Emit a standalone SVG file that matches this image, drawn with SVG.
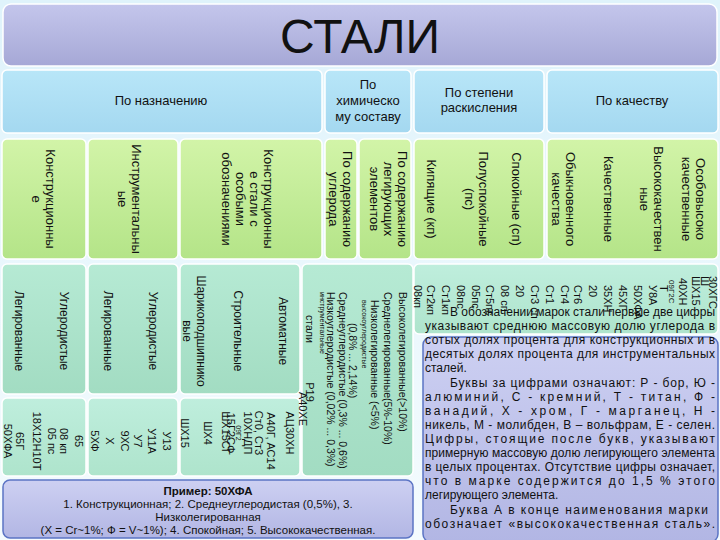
<svg xmlns="http://www.w3.org/2000/svg" width="720" height="540" viewBox="0 0 720 540">
<defs>
<linearGradient id="bg" x1="0" y1="0" x2="0" y2="1"><stop offset="0" stop-color="#dff3fb"/><stop offset="1" stop-color="#f4fbfe"/></linearGradient>
<linearGradient id="gt" x1="0" y1="0" x2="0" y2="1"><stop offset="0" stop-color="#c4c6ec"/><stop offset="1" stop-color="#a6a8d6"/></linearGradient>
<linearGradient id="gc" x1="0" y1="0" x2="0" y2="1"><stop offset="0" stop-color="#b8e6f8"/><stop offset="1" stop-color="#a4d8f0"/></linearGradient>
<linearGradient id="gg" x1="0" y1="0" x2="0" y2="1"><stop offset="0" stop-color="#d2f4a8"/><stop offset="1" stop-color="#b4e488"/></linearGradient>
<linearGradient id="gq" x1="0" y1="0" x2="0" y2="1"><stop offset="0" stop-color="#b6ead4"/><stop offset="1" stop-color="#a2dcc2"/></linearGradient>
<linearGradient id="gk" x1="0" y1="0" x2="0" y2="1"><stop offset="0" stop-color="#bfeedd"/><stop offset="1" stop-color="#aee4cc"/></linearGradient>
<linearGradient id="gb" x1="0" y1="0" x2="0" y2="1"><stop offset="0" stop-color="#cdd0f2"/><stop offset="1" stop-color="#b2b6e4"/></linearGradient>
</defs>
<style>
text{font-family:"Liberation Sans",Arial,sans-serif;fill:#111}
.c{font-size:13px;text-anchor:middle}
.g{font-size:13px;text-anchor:middle}
.q{font-size:12px;text-anchor:middle}
.s{font-size:10.5px}
.k{font-size:11px}
.km{font-size:11px;text-anchor:middle}
.p{font-size:12px}
.e{font-size:11.5px;text-anchor:middle}
.box{stroke:#ffffff;stroke-width:1.5}
</style>
<rect width="720" height="540" fill="url(#bg)"/>
<g id="title"><rect class="box" x="3" y="4" width="714" height="62" rx="8" fill="url(#gt)"/><text x="360" y="53" style="font-size:48px;text-anchor:middle">СТАЛИ</text></g>
<g id="categories">
<rect class="box" x="2" y="70" width="320" height="63" rx="5" fill="url(#gc)"/><text class="c" x="161" y="105">По назначению</text>
<rect class="box" x="325" y="70" width="86" height="63" rx="5" fill="url(#gc)"/><text class="c" x="368" y="89">По</text><text class="c" x="368" y="105">химическо</text><text class="c" x="368" y="121">му составу</text>
<rect class="box" x="414" y="70" width="130" height="63" rx="5" fill="url(#gc)"/><text class="c" x="479" y="97">По степени</text><text class="c" x="479" y="112">раскисления</text>
<rect class="box" x="547" y="70" width="171" height="63" rx="5" fill="url(#gc)"/><text class="c" x="632" y="105">По качеству</text>
</g>
<g id="types">
<rect class="box" x="2" y="139" width="84" height="120" rx="5" fill="url(#gg)"/>
<rect class="box" x="88" y="139" width="90" height="120" rx="5" fill="url(#gg)"/>
<rect class="box" x="180" y="139" width="142" height="120" rx="5" fill="url(#gg)"/>
<rect class="box" x="325" y="139" width="32" height="120" rx="5" fill="url(#gg)"/>
<rect class="box" x="359" y="139" width="52" height="120" rx="5" fill="url(#gg)"/>
<rect class="box" x="414" y="139" width="130" height="120" rx="5" fill="url(#gg)"/>
<rect class="box" x="547" y="139" width="171" height="120" rx="5" fill="url(#gg)"/>
<text class="g" transform="translate(46,199) rotate(90)">Конструкционны<tspan x="0" dy="14">е</tspan></text>
<text class="g" transform="translate(132,199) rotate(90)">Инструментальны<tspan x="0" dy="14">ые</tspan></text>
<text class="g" transform="translate(264,199) rotate(90)">Конструкционны<tspan x="0" dy="14">е стали с</tspan><tspan x="0" dy="14">особыми</tspan><tspan x="0" dy="14">обозначениями</tspan></text>
<text class="g" transform="translate(343,199) rotate(90)">По содержанию<tspan x="0" dy="14">углерода</tspan></text>
<text class="g" transform="translate(398,199) rotate(90)">По содержанию<tspan x="0" dy="14">легирующих</tspan><tspan x="0" dy="14">элементов</tspan></text>
<text class="g" transform="translate(427,199) rotate(90)">Кипящие (кп)</text>
<text class="g" transform="translate(479,199) rotate(90)">Полуспокойные<tspan x="0" dy="14">(пс)</tspan></text>
<text class="g" transform="translate(512,199) rotate(90)">Спокойные (сп)</text>
<text class="g" transform="translate(566,199) rotate(90)">Обыкновенного<tspan x="0" dy="14">качества</tspan></text>
<text class="g" transform="translate(604,199) rotate(90)">Качественные</text>
<text class="g" transform="translate(654,199) rotate(90)">Высококачествен<tspan x="0" dy="14">ные</tspan></text>
<text class="g" transform="translate(696,199) rotate(90)">Особовысоко<tspan x="0" dy="14">качественные</tspan></text>
</g>
<g id="subtypes">
<rect class="box" x="2" y="264" width="84" height="130" rx="5" fill="url(#gq)"/>
<rect class="box" x="88" y="264" width="90" height="130" rx="5" fill="url(#gq)"/>
<rect class="box" x="180" y="264" width="120" height="130" rx="5" fill="url(#gq)"/>
<rect class="box" x="302" y="264" width="111" height="212" rx="5" fill="url(#gq)"/>
<rect class="box" x="414" y="264" width="304" height="70" rx="5" fill="url(#gk)"/>
<text class="q" transform="translate(15,331) rotate(90)">Легированные</text>
<text class="q" transform="translate(60,331) rotate(90)">Углеродистые</text>
<text class="q" transform="translate(104,331) rotate(90)">Легированные</text>
<text class="q" transform="translate(149,331) rotate(90)">Углеродистые</text>
<text class="q" transform="translate(197,331) rotate(90)">Шарикоподшипнико<tspan x="0" dy="14">вые</tspan></text>
<text class="q" transform="translate(234,331) rotate(90)">Строительные</text>
<text class="q" transform="translate(279,331) rotate(90)">Автоматные</text>
<text class="s" transform="translate(399,292) rotate(90)">Высоколегированные(&gt;10%)</text>
<text class="s" transform="translate(384,292) rotate(90)">Среднелегированные(5%-10%)</text>
<text class="s" transform="translate(371,300) rotate(90)">Низколегированные (&lt;5%)</text>
<text transform="translate(362,300) rotate(90)" style="font-size:7px">высокоуглеродистые</text>
<text class="s" transform="translate(349,323) rotate(90)">(0,8% ... 2,14%)</text>
<text class="s" transform="translate(339,292) rotate(90)">Среднеуглеродистые (0,3% ... 0,6%)</text>
<text class="s" transform="translate(327,292) rotate(90)">Низкоуглеродистые (0,02% ... 0,3%)</text>
<text transform="translate(320,292) rotate(90)" style="font-size:7px">инструментальные</text>
<text class="s" transform="translate(306,315) rotate(90)">стали</text>
</g>
<g id="codes">
<rect class="box" x="2" y="398" width="84" height="78" rx="5" fill="url(#gk)"/>
<rect class="box" x="88" y="398" width="90" height="78" rx="5" fill="url(#gk)"/>
<rect class="box" x="180" y="398" width="120" height="78" rx="5" fill="url(#gk)"/>
<text class="km" transform="translate(4,441) rotate(90)">50ХФА</text>
<text class="km" transform="translate(16,441) rotate(90)">65Г</text>
<text class="km" transform="translate(33,441) rotate(90)">18Х12Н10Т</text>
<text class="km" transform="translate(48,441) rotate(90)">05 пс</text>
<text class="km" transform="translate(60,441) rotate(90)">08 кп</text>
<text class="km" transform="translate(75,441) rotate(90)">65</text>
<text class="km" transform="translate(91,441) rotate(90)">5ХФ</text>
<text class="km" transform="translate(106,441) rotate(90)">Х</text>
<text class="km" transform="translate(121,441) rotate(90)">9ХС</text>
<text class="km" transform="translate(134,441) rotate(90)">У7</text>
<text class="km" transform="translate(148,441) rotate(90)">У11А</text>
<text class="km" transform="translate(163,441) rotate(90)">У13</text>
<text class="km" transform="translate(181,433) rotate(90)">ШХ15</text>
<text class="km" transform="translate(204,433) rotate(90)">ШХ4</text>
<text class="km" transform="translate(222,433) rotate(90)">ШХ15СГ</text>
<text class="km" transform="translate(227,433) rotate(90)">15Г2СФ</text>
<text transform="translate(236,433) rotate(90)" style="font-size:7px;text-anchor:middle">09Г2</text>
<text class="km" transform="translate(244,433) rotate(90)">10ХНДП</text>
<text class="km" transform="translate(255,433) rotate(90)">Ст0, Ст3</text>
<text class="km" transform="translate(267,441) rotate(90)">А40Г, АС14</text>
<text class="km" transform="translate(286,433) rotate(90)">АЦ30ХН</text>
<text class="km" transform="translate(299,409) rotate(90)">А40ХЕ</text>
<text class="km" transform="translate(306,392) rotate(90)">Р19</text>
<text class="k" transform="translate(414,285) rotate(90)">08кп</text>
<text class="k" transform="translate(427,285) rotate(90)">Ст2кп</text>
<text class="k" transform="translate(442,285) rotate(90)">Ст1кп</text>
<text class="k" transform="translate(457,285) rotate(90)">08пс</text>
<text class="k" transform="translate(472,285) rotate(90)">05пс</text>
<text class="k" transform="translate(486,285) rotate(90)">Ст5пс</text>
<text class="k" transform="translate(501,285) rotate(90)">08 сп</text>
<text class="k" transform="translate(516,285) rotate(90)">20</text>
<text class="k" transform="translate(531,285) rotate(90)">Ст3 сп</text>
<text class="k" transform="translate(546,285) rotate(90)">Ст1</text>
<text class="k" transform="translate(561,285) rotate(90)">Ст4</text>
<text class="k" transform="translate(574,285) rotate(90)">Ст6</text>
<text class="k" transform="translate(589,285) rotate(90)">20</text>
<text class="k" transform="translate(604,285) rotate(90)">35ХН</text>
<text class="k" transform="translate(619,285) rotate(90)">45ХГ</text>
<text class="k" transform="translate(634,285) rotate(90)">50ХФА</text>
<text class="k" transform="translate(649,285) rotate(90)">У8А</text>
<text class="k" transform="translate(660,285) rotate(90)">Т</text>
<text transform="translate(669,280) rotate(90)" style="font-size:8px">09Г2С</text>
<text class="k" transform="translate(679,278) rotate(90)">40ХН</text>
<text class="k" transform="translate(692,276) rotate(90)">ШХ15</text>
<text class="k" transform="translate(701,276) rotate(90)">Ш</text>
<text class="k" transform="translate(709,276) rotate(90)">30ХГС</text>
</g>
<g id="note">
<rect x="423" y="337" width="295" height="205" rx="8" fill="url(#gb)" stroke="#5b74c4" stroke-width="1.5"/>
<text class="p" x="450" y="316" textLength="265" lengthAdjust="spacing">В обозначении марок стали первые две цифры</text>
<text class="p" x="425" y="330" textLength="290" lengthAdjust="spacing">указывают среднюю массовую долю углерода в</text>
<text class="p" x="425" y="344" textLength="290" lengthAdjust="spacing">сотых долях процента для конструкционных и в</text>
<text class="p" x="425" y="358" textLength="290" lengthAdjust="spacing">десятых долях процента для инструментальных</text>
<text class="p" x="425" y="372">сталей.</text>
<text class="p" x="450" y="387" textLength="265" lengthAdjust="spacing">Буквы за цифрами означают: Р - бор, Ю -</text>
<text class="p" x="425" y="401" textLength="290" lengthAdjust="spacing">алюминий,                 С - кремний, Т - титан, Ф -</text>
<text class="p" x="425" y="415" textLength="290" lengthAdjust="spacing">ванадий, Х - хром, Г - марганец,              Н -</text>
<text class="p" x="425" y="429" textLength="290" lengthAdjust="spacing">никель, М - молибден, В – вольфрам, Е - селен.</text>
<text class="p" x="425" y="443" textLength="290" lengthAdjust="spacing">Цифры,   стоящие   после   букв,   указывают</text>
<text class="p" x="425" y="457" textLength="290" lengthAdjust="spacing">примерную массовую долю легирующего элемента</text>
<text class="p" x="425" y="471" textLength="290" lengthAdjust="spacing">в целых процентах. Отсутствие цифры означает,</text>
<text class="p" x="425" y="485" textLength="290" lengthAdjust="spacing">что  в  марке  содержится  до  1,5  %  этого</text>
<text class="p" x="425" y="499">легирующего элемента.</text>
<text class="p" x="450" y="514" textLength="258" lengthAdjust="spacing">Буква А в конце наименования марки</text>
<text class="p" x="425" y="528" textLength="290" lengthAdjust="spacing">обозначает    «высококачественная    сталь».</text>
</g>
<g id="example">
<rect x="3" y="480" width="410" height="58" rx="7" fill="url(#gb)" stroke="#5b74c4" stroke-width="1.5"/>
<text class="e" x="208" y="495" style="font-weight:bold">Пример: 50ХФА</text>
<text class="e" x="208" y="508">1.  Конструкционная; 2. Среднеуглеродистая (0,5%), 3.</text>
<text class="e" x="208" y="521">Низколегированная</text>
<text class="e" x="208" y="534">(Х = Cr~1%; Ф = V~1%); 4. Спокойная; 5. Высококачественная.</text>
</g>
</svg>
